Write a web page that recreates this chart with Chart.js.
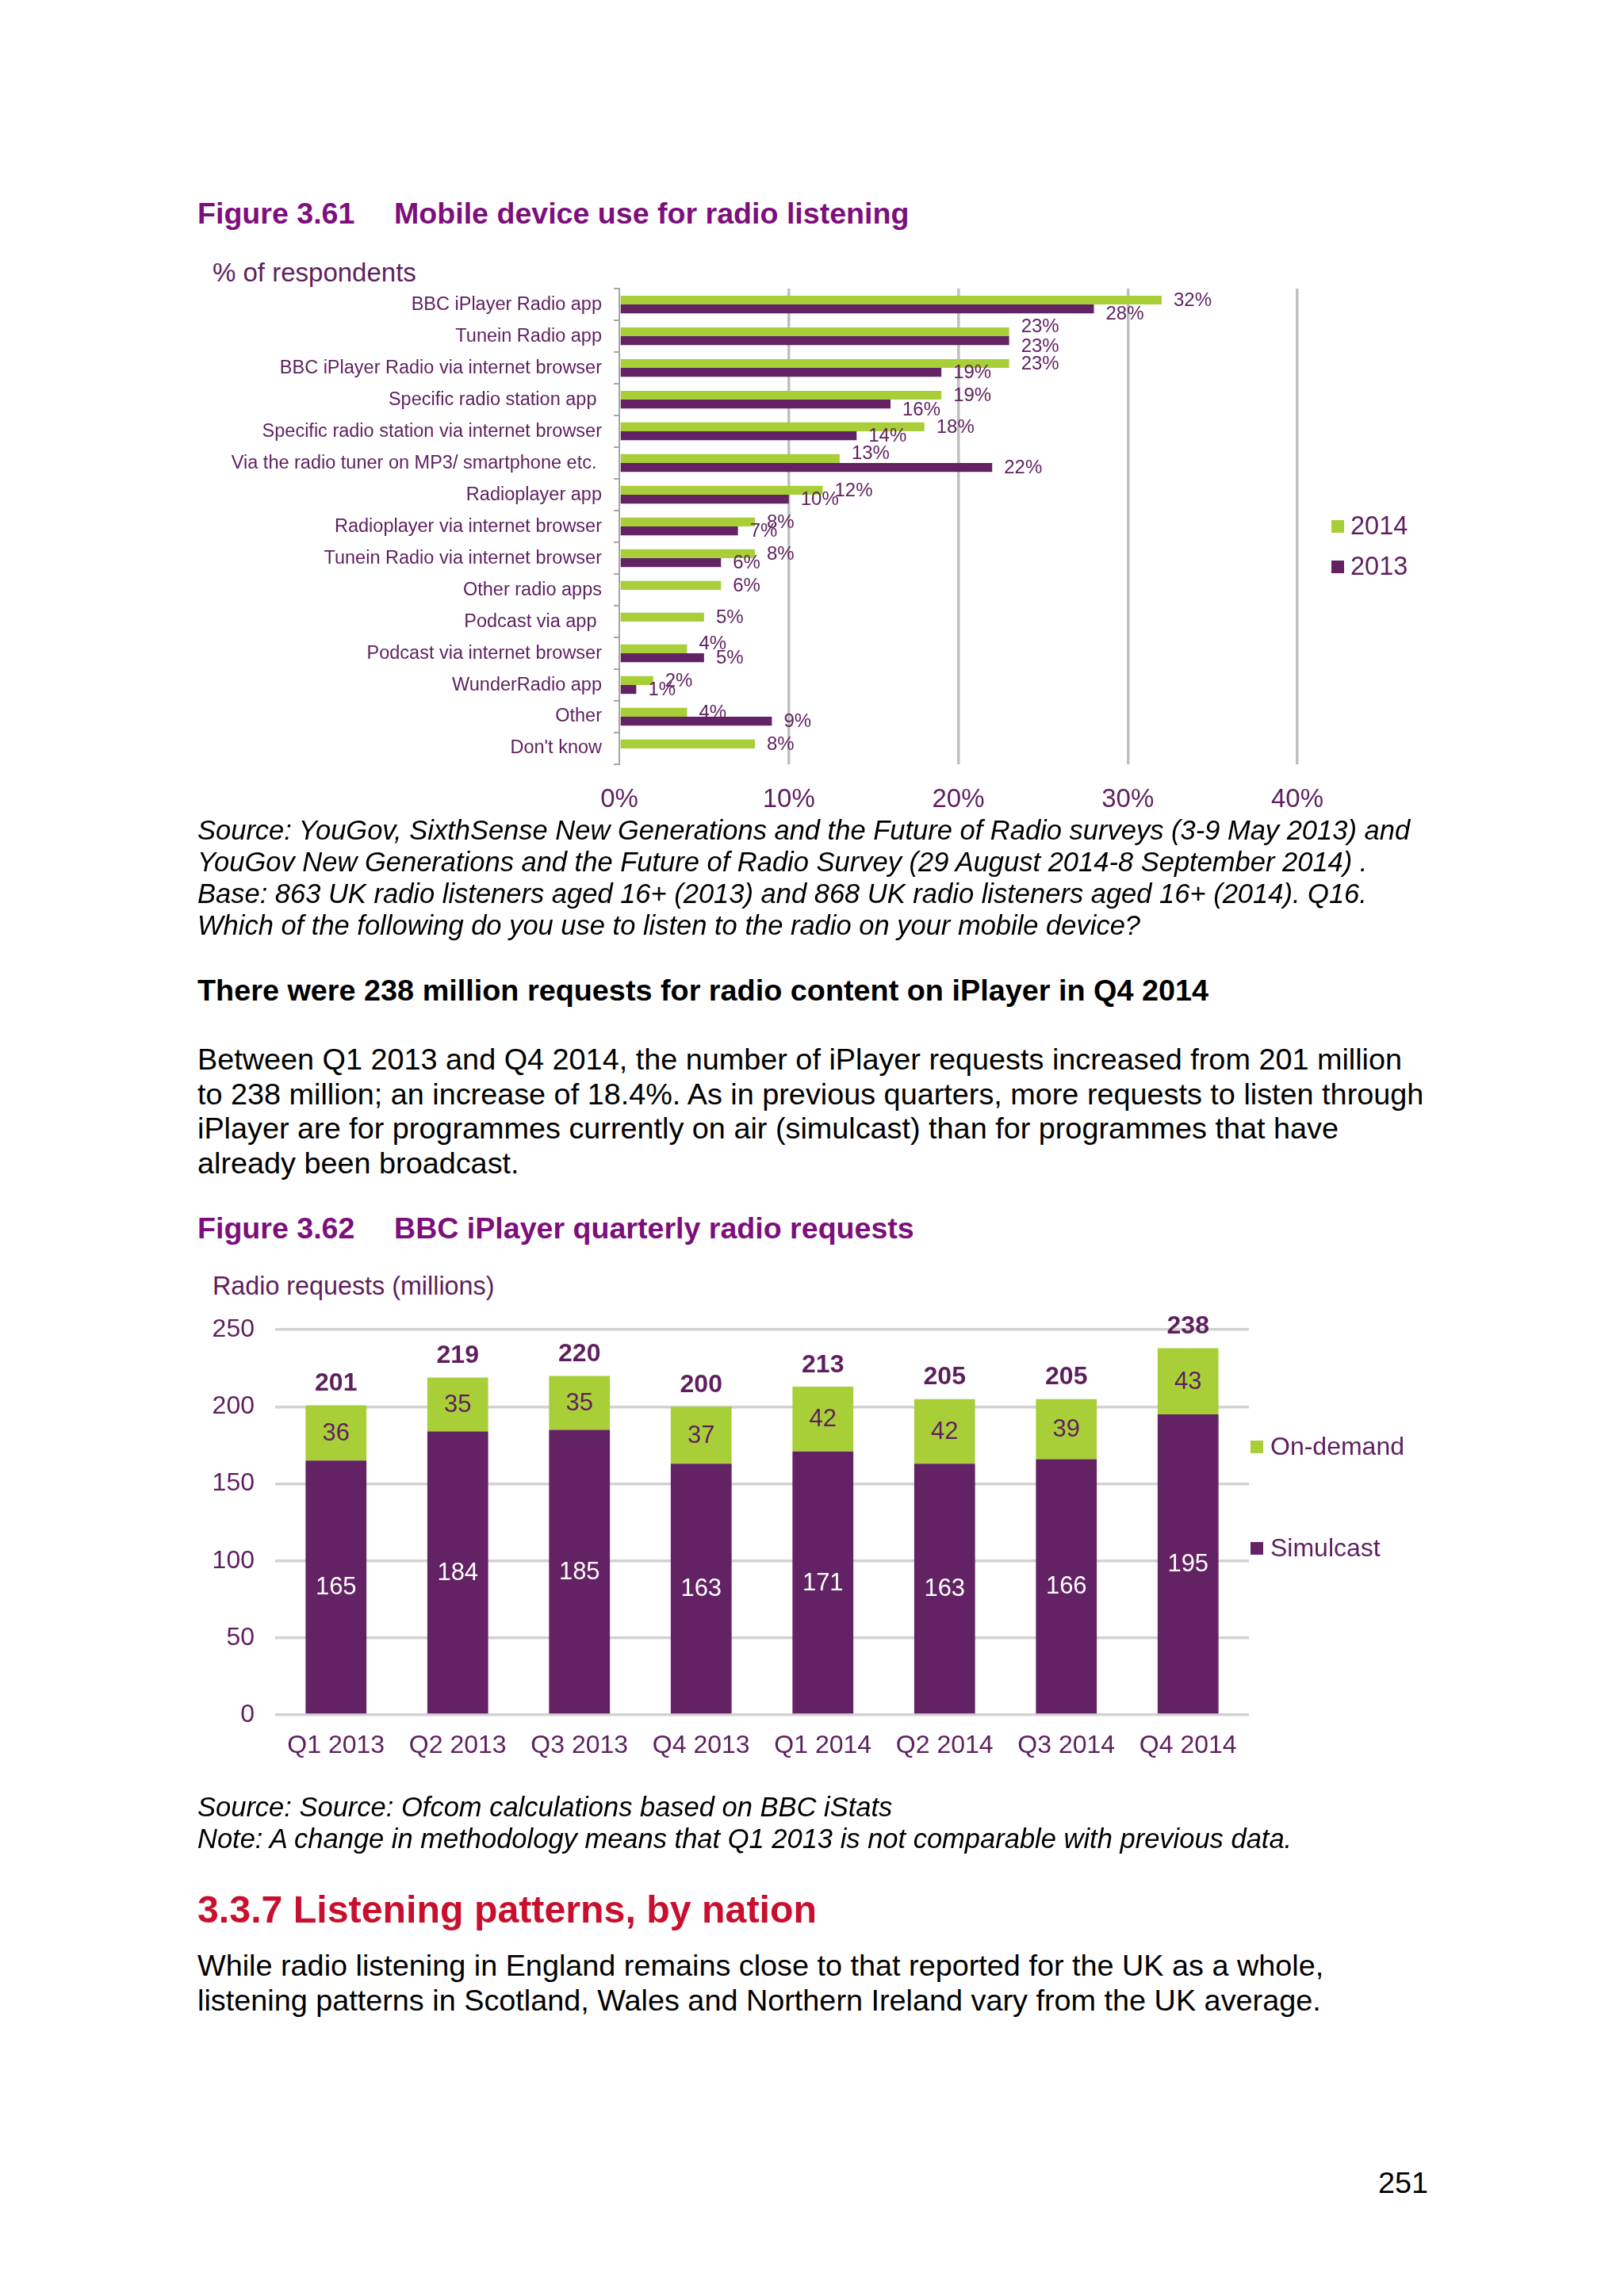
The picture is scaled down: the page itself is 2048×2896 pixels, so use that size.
<!DOCTYPE html>
<html lang="en">
<head>
<meta charset="UTF-8">
<title>Mobile device use for radio listening / BBC iPlayer quarterly radio requests</title>
<script src="https://cdn.jsdelivr.net/npm/chart.js"></script>
<style>
    html, body {
        margin: 0;
        padding: 0;
        background: #ffffff;
    }
    body {
        position: relative;
        width: 2048px;
        height: 2896px;
        overflow: hidden;
        font-family: "Liberation Sans", Arial, sans-serif;
    }
    .t {
        position: absolute;
        white-space: nowrap;
        line-height: 1;
    }
    .fig {
        font-size: 37.6px;
        font-weight: bold;
        color: #7d0e7d;
    }
    .unit {
        color: #5e1f5e;
    }
    .src {
        font-size: 34.5px;
        font-style: italic;
        color: #000;
        line-height: 40px;
    }
    .body {
        font-size: 37.8px;
        color: #000;
        line-height: 43.7px;
    }
    .head {
        font-size: 37.8px;
        font-weight: bold;
        color: #000;
    }
    .sect {
        font-size: 48.3px;
        font-weight: bold;
        color: #c8102e;
    }
    canvas {
        position: absolute;
        left: 0;
    }
</style>
</head>
<body>
    <div class="t fig" style="left:249px; top:251px;">Figure 3.61</div>
    <div class="t fig" style="left:497px; top:251px;">Mobile device use for radio listening</div>
    <div class="t unit" style="left:268px; top:327px; font-size:33px;">% of respondents</div>

    <canvas id="mobileChart" width="2048" height="725" style="top:335px; width:2048px; height:725px;"></canvas>

    <div class="t src" style="left:249px; top:1027px;">
        Source: YouGov, SixthSense New Generations and the Future of Radio surveys (3-9 May 2013) and<br>
        YouGov New Generations and the Future of Radio Survey (29 August 2014-8 September 2014) .<br>
        Base: 863 UK radio listeners aged 16+ (2013) and 868 UK radio listeners aged 16+ (2014). Q16.<br>
        Which of the following do you use to listen to the radio on your mobile device?
    </div>

    <div class="t head" style="left:249px; top:1231px;">There were 238 million requests for radio content on iPlayer in Q4 2014</div>

    <div class="t body" style="left:249px; top:1315px;">
        Between Q1 2013 and Q4 2014, the number of iPlayer requests increased from 201 million<br>
        to 238 million; an increase of 18.4%. As in previous quarters, more requests to listen through<br>
        iPlayer are for programmes currently on air (simulcast) than for programmes that have<br>
        already been broadcast.
    </div>

    <div class="t fig" style="left:249px; top:1531px;">Figure 3.62</div>
    <div class="t fig" style="left:497px; top:1531px;">BBC iPlayer quarterly radio requests</div>
    <div class="t unit" style="left:268px; top:1606px; font-size:32.3px;">Radio requests (millions)</div>

    <canvas id="iplayerChart" width="2048" height="630" style="top:1632px; width:2048px; height:630px;"></canvas>

    <div class="t src" style="left:249px; top:2259px;">
        Source: Source: Ofcom calculations based on BBC iStats<br>
        Note: A change in methodology means that Q1 2013 is not comparable with previous data.
    </div>

    <div class="t sect" style="left:249px; top:2384px;">3.3.7 Listening patterns, by nation</div>

    <div class="t body" style="left:249px; top:2458px;">
        While radio listening in England remains close to that reported for the UK as a whole,<br>
        listening patterns in Scotland, Wales and Northern Ireland vary from the UK average.
    </div>

    <div class="t body" style="left:1738px; top:2732px;">251</div>

<script>
    // Figure 3.61 data
    const mobileCategories = [
        'BBC iPlayer Radio app',
        'Tunein Radio app',
        'BBC iPlayer Radio via internet browser',
        'Specific radio station app ',
        'Specific radio station via internet browser',
        'Via the radio tuner on MP3/ smartphone etc. ',
        'Radioplayer app',
        'Radioplayer via internet browser',
        'Tunein Radio via internet browser',
        'Other radio apps',
        'Podcast via app ',
        'Podcast via internet browser',
        'WunderRadio app',
        'Other',
        "Don't know"
    ];
    const use2014 = [32, 23, 23, 19, 18, 13, 12, 8, 8, 6, 5, 4, 2, 4, 8];
    const use2013 = [28, 23, 19, 16, 14, 22, 10, 7, 6, null, null, 5, 1, 9, null];
    const percentTicks = [0, 10, 20, 30, 40];

    // Figure 3.62 data
    const quarters = ['Q1 2013', 'Q2 2013', 'Q3 2013', 'Q4 2013', 'Q1 2014', 'Q2 2014', 'Q3 2014', 'Q4 2014'];
    const simulcast = [165, 184, 185, 163, 171, 163, 166, 195];
    const onDemand = [36, 35, 35, 37, 42, 42, 39, 43];
    const totals = [201, 219, 220, 200, 213, 205, 205, 238];
    const requestTicks = [0, 50, 100, 150, 200, 250];

    const GREEN = '#a8cf38';
    const PURPLE = '#622263';
    const TEXT = '#5e1f5e';
    const FONT = '"Liberation Sans", Arial, sans-serif';

    Chart.defaults.font.family = FONT;
    Chart.defaults.color = TEXT;

    // small nudges where the original labels were moved to avoid overlaps
    const nudge2014 = {1: -7, 5: -7, 11: -7};
    const nudge2013 = {0: 6, 1: 7, 3: 7};

    const mobileLabels = {
        id: 'mobileLabels',
        afterDatasetsDraw(chart) {
            const ctx = chart.ctx;
            ctx.save();
            ctx.font = '24px ' + FONT;
            ctx.fillStyle = TEXT;
            ctx.textAlign = 'left';
            ctx.textBaseline = 'middle';
            chart.data.datasets.forEach((ds, di) => {
                const meta = chart.getDatasetMeta(di);
                const nudges = di === 0 ? nudge2014 : nudge2013;
                meta.data.forEach((bar, i) => {
                    const v = ds.data[i];
                    if (v === null || v === undefined) return;
                    ctx.fillText(v + '%', bar.x + 15, bar.y + 1 + (nudges[i] || 0));
                });
            });
            // legend
            const items = [
                {label: '2014', color: GREEN, y: 329},
                {label: '2013', color: PURPLE, y: 380}
            ];
            ctx.font = '32.5px ' + FONT;
            items.forEach(it => {
                ctx.fillStyle = it.color;
                ctx.fillRect(1679, it.y - 8, 16, 16);
                ctx.fillStyle = TEXT;
                ctx.fillText(it.label, 1703, it.y + 1);
            });
            ctx.restore();
        }
    };

    new Chart(document.getElementById('mobileChart'), {
        type: 'bar',
        data: {
            labels: mobileCategories,
            datasets: [
                {
                    label: '2014',
                    data: use2014,
                    backgroundColor: GREEN,
                    categoryPercentage: 0.56,
                    barPercentage: 1.0
                },
                {
                    label: '2013',
                    data: use2013,
                    backgroundColor: PURPLE,
                    categoryPercentage: 0.56,
                    barPercentage: 1.0
                }
            ]
        },
        options: {
            indexAxis: 'y',
            responsive: false,
            animation: false,
            devicePixelRatio: 1,
            layout: {
                padding: {left: 0, right: 412, top: 0, bottom: 0}
            },
            scales: {
                x: {
                    min: 0,
                    max: 40,
                    afterBuildTicks: scale => {
                        scale.ticks = percentTicks.map(v => ({value: v}));
                    },
                    afterFit: scale => { scale.height = 96; },
                    ticks: {
                        callback: v => v + '%',
                        font: {size: 33},
                        color: TEXT,
                        padding: 25
                    },
                    grid: {
                        color: c => (c.tick && c.tick.value === 0) ? 'rgba(0,0,0,0)' : '#bfbfbf',
                        lineWidth: 3.5,
                        drawTicks: false
                    },
                    border: {display: false}
                },
                y: {
                    afterFit: scale => { scale.width = 781; },
                    ticks: {
                        font: {size: 23.5},
                        color: TEXT,
                        padding: 15,
                        autoSkip: false
                    },
                    grid: {
                        offset: true,
                        drawOnChartArea: false,
                        color: '#a6a6a6',
                        lineWidth: 2,
                        tickLength: 7
                    },
                    border: {color: '#a6a6a6', width: 2}
                }
            },
            plugins: {
                legend: {display: false},
                tooltip: {enabled: false}
            }
        },
        plugins: [mobileLabels]
    });

    const iplayerLabels = {
        id: 'iplayerLabels',
        afterDatasetsDraw(chart) {
            const ctx = chart.ctx;
            ctx.save();
            ctx.textAlign = 'center';
            ctx.textBaseline = 'middle';
            const simMeta = chart.getDatasetMeta(0);
            const odMeta = chart.getDatasetMeta(1);
            ctx.font = '31px ' + FONT;
            simMeta.data.forEach((bar, i) => {
                ctx.fillStyle = '#ffffff';
                ctx.fillText(String(simulcast[i]), bar.x, (bar.y + bar.base) / 2 + 1);
            });
            odMeta.data.forEach((bar, i) => {
                ctx.fillStyle = TEXT;
                ctx.fillText(String(onDemand[i]), bar.x, (bar.y + bar.base) / 2 + 1);
            });
            ctx.font = 'bold 32px ' + FONT;
            const yScale = chart.scales.y;
            odMeta.data.forEach((bar, i) => {
                ctx.fillStyle = TEXT;
                ctx.fillText(String(totals[i]), bar.x, yScale.getPixelForValue(totals[i]) - 27);
            });
            // legend
            const items = [
                {label: 'On-demand', color: GREEN, y: 193},
                {label: 'Simulcast', color: PURPLE, y: 321}
            ];
            ctx.font = '32px ' + FONT;
            ctx.textAlign = 'left';
            items.forEach(it => {
                ctx.fillStyle = it.color;
                ctx.fillRect(1577, it.y - 8, 16, 16);
                ctx.fillStyle = TEXT;
                ctx.fillText(it.label, 1602, it.y + 1);
            });
            ctx.restore();
        }
    };

    new Chart(document.getElementById('iplayerChart'), {
        type: 'bar',
        data: {
            labels: quarters,
            datasets: [
                {
                    label: 'Simulcast',
                    data: simulcast,
                    backgroundColor: PURPLE,
                    categoryPercentage: 1.0,
                    barPercentage: 0.5
                },
                {
                    label: 'On-demand',
                    data: onDemand,
                    backgroundColor: GREEN,
                    categoryPercentage: 1.0,
                    barPercentage: 0.5
                }
            ]
        },
        options: {
            responsive: false,
            animation: false,
            devicePixelRatio: 1,
            layout: {
                padding: {left: 0, right: 473, top: 0, bottom: 0}
            },
            scales: {
                x: {
                    stacked: true,
                    afterFit: scale => { scale.height = 99; },
                    ticks: {
                        font: {size: 32},
                        color: TEXT,
                        padding: 12
                    },
                    grid: {display: false},
                    border: {display: false}
                },
                y: {
                    stacked: true,
                    min: 0,
                    max: 250,
                    afterBuildTicks: scale => {
                        scale.ticks = requestTicks.map(v => ({value: v}));
                    },
                    afterFit: scale => { scale.width = 347; },
                    ticks: {
                        font: {size: 32},
                        color: TEXT,
                        padding: 26
                    },
                    grid: {
                        color: '#d2d2d2',
                        lineWidth: 3.5,
                        drawTicks: false
                    },
                    border: {display: false}
                }
            },
            plugins: {
                legend: {display: false},
                tooltip: {enabled: false}
            }
        },
        plugins: [iplayerLabels]
    });
</script>
</body>
</html>
